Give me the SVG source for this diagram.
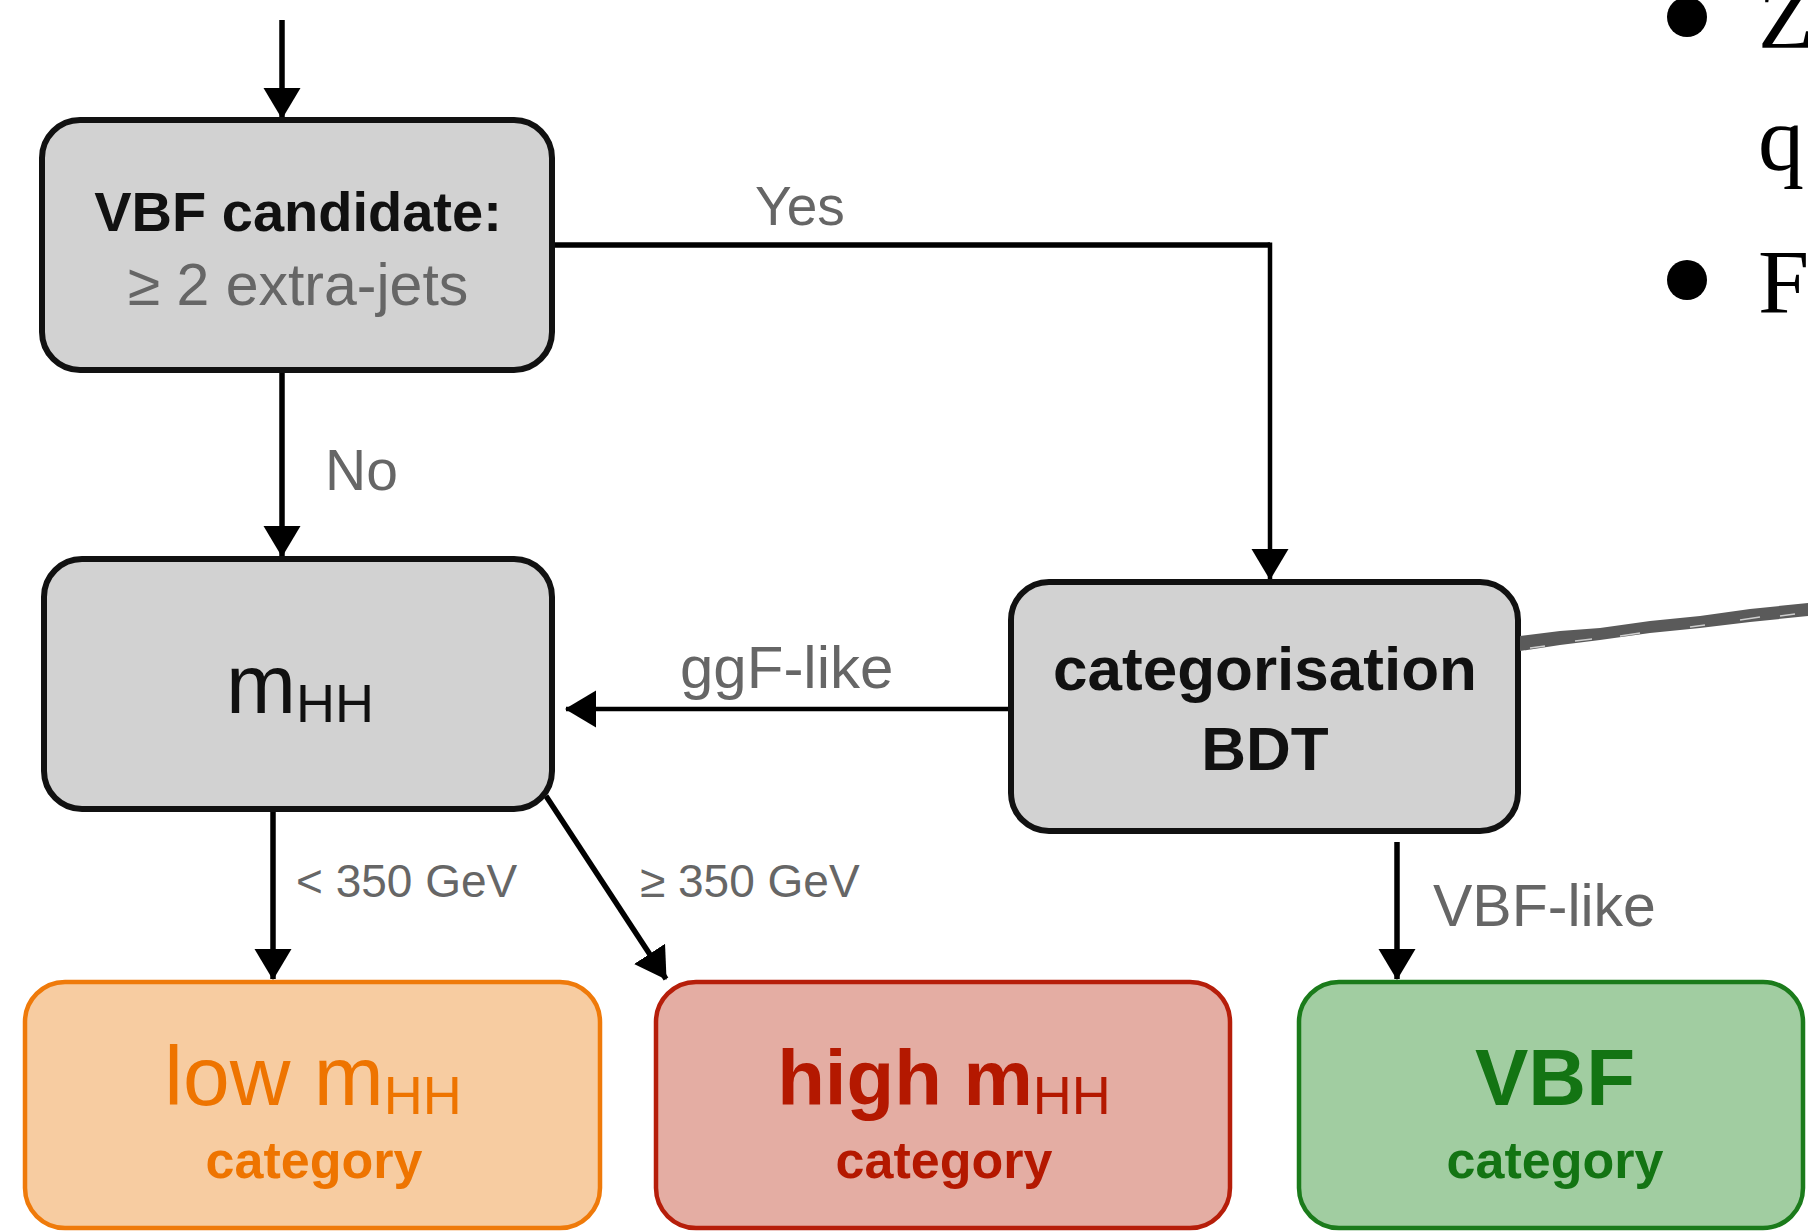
<svg xmlns="http://www.w3.org/2000/svg" width="1808" height="1231" viewBox="0 0 1808 1231">
<defs>
<style>
.box{stroke-width:6}
.gray{fill:#d2d2d2;stroke:#111}
.t{font-family:"Liberation Sans",Arial,sans-serif}
.lbl{font-family:"Liberation Sans",Arial,sans-serif;fill:#666}
.conn{fill:none;stroke:#000;stroke-width:5.5}
.thin{stroke-width:4.5}
.serif{font-family:"Liberation Serif","Times New Roman",serif;fill:#000}
</style>
<marker id="arr" markerUnits="userSpaceOnUse" markerWidth="32" markerHeight="38" refX="30" refY="19" orient="auto">
<path d="M0,0.5 L31,19 L0,37.5 z" fill="#000"/>
</marker>
</defs>
<rect width="1808" height="1231" fill="#fff"/>

<g id="connectors">
<line class="conn" x1="282" y1="20" x2="282" y2="118" marker-end="url(#arr)"/>
<polyline class="conn" points="553,245 1270,245" />
<polyline class="conn thin" points="1270,242.5 1270,579" marker-end="url(#arr)"/>
<line class="conn" x1="282" y1="372" x2="282" y2="556" marker-end="url(#arr)"/>
<line class="conn thin" x1="1009" y1="709" x2="566" y2="709" marker-end="url(#arr)"/>
<line class="conn" x1="273" y1="811" x2="273" y2="979" marker-end="url(#arr)"/>
<line class="conn" x1="546" y1="796" x2="666" y2="979" marker-end="url(#arr)"/>
<line class="conn" x1="1397" y1="842" x2="1397" y2="979" marker-end="url(#arr)"/>
<text class="lbl" x="755" y="225" font-size="55">Yes</text>
<text class="lbl" x="325" y="490" font-size="57">No</text>
<text class="lbl" x="680" y="688" font-size="60">ggF-like</text>
<text class="lbl" x="1433" y="926" font-size="59">VBF-like</text>
<text class="lbl" x="296" y="897" font-size="46">&lt; 350 GeV</text>
<text class="lbl" x="640" y="897" font-size="46">≥ 350 GeV</text>
</g>

<g id="vbf-candidate">
<rect class="box gray" x="42" y="120" width="510" height="250" rx="38"/>
<text class="t" x="298" y="231" font-size="56" font-weight="bold" text-anchor="middle" fill="#111">VBF candidate:</text>
<text class="t" x="298" y="305" font-size="59" text-anchor="middle" fill="#666">≥ 2 extra-jets</text>
</g>

<g id="mhh">
<rect class="box gray" x="44" y="559" width="508" height="250" rx="38"/>
<text class="t" x="300" y="713" text-anchor="middle" fill="#111"><tspan font-size="84">m</tspan><tspan font-size="54" dy="9">HH</tspan></text>
</g>

<g id="categorisation-bdt">
<rect class="box gray" x="1011" y="582" width="507" height="249" rx="38"/>
<text class="t" x="1265" y="690" font-size="62" font-weight="bold" text-anchor="middle" fill="#111">categorisation</text>
<text class="t" x="1265" y="770" font-size="62" font-weight="bold" text-anchor="middle" fill="#111">BDT</text>
</g>

<g id="low-mhh">
<rect x="25" y="982" width="575" height="246" rx="40" fill="#f7cca1" stroke="#ef7a0a" stroke-width="4.5"/>
<text class="t" x="313" y="1105" text-anchor="middle" fill="#ee7400"><tspan font-size="84">low m</tspan><tspan font-size="54" dy="9">HH</tspan></text>
<text class="t" x="314" y="1178" font-size="52" font-weight="bold" text-anchor="middle" fill="#ee7400">category</text>
</g>

<g id="high-mhh">
<rect x="656" y="982" width="574" height="246" rx="40" fill="#e4ada3" stroke="#b61e0a" stroke-width="4.5"/>
<text class="t" x="944" y="1105" font-weight="bold" text-anchor="middle" fill="#b41800"><tspan font-size="78">high m</tspan><tspan font-size="54" dy="9" font-weight="normal">HH</tspan></text>
<text class="t" x="944" y="1178" font-size="52" font-weight="bold" text-anchor="middle" fill="#b41800">category</text>
</g>

<g id="vbf-category">
<rect x="1299" y="982" width="504" height="246" rx="40" fill="#a1cda1" stroke="#1b7b1b" stroke-width="4.5"/>
<text class="t" x="1555" y="1105" font-size="80" font-weight="bold" text-anchor="middle" fill="#137413">VBF</text>
<text class="t" x="1555" y="1178" font-size="52" font-weight="bold" text-anchor="middle" fill="#137413">category</text>
</g>

<g id="annotation">
<path d="M1520,636 L1560,631 L1600,628 L1650,621 L1700,616 L1750,609 L1808,603 L1808,616 L1750,622 L1700,628 L1650,633 L1600,640 L1560,645 L1520,651 z" fill="#5a5a5a"/>
<g stroke="#fff" stroke-width="1.5" opacity="0.7">
<line x1="1530" y1="648" x2="1545" y2="646"/>
<line x1="1575" y1="641" x2="1592" y2="639"/>
<line x1="1620" y1="636" x2="1640" y2="633"/>
<line x1="1690" y1="627" x2="1705" y2="625"/>
<line x1="1740" y1="620" x2="1760" y2="617"/>
<line x1="1780" y1="616" x2="1795" y2="614"/>
</g>
<circle cx="1687" cy="17" r="20" fill="#000"/>
<circle cx="1687" cy="280" r="20" fill="#000"/>
<text class="serif" x="1758" y="48" font-size="92">Z</text>
<text class="serif" x="1758" y="170" font-size="92">q</text>
<text class="serif" x="1758" y="313" font-size="92">F</text>
</g>
</svg>
